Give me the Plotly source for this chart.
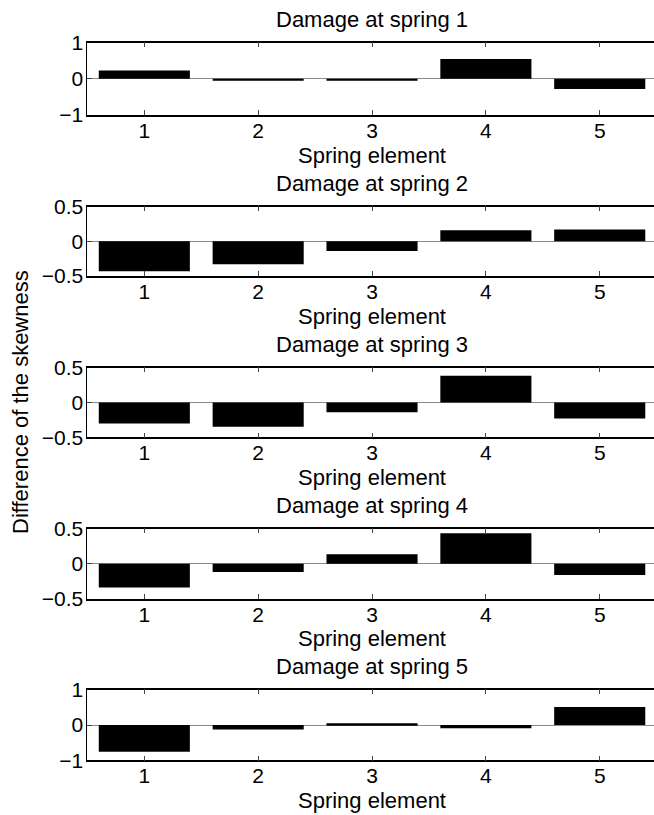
import plotly.graph_objects as go

# ---- data ----
springs = [1, 2, 3, 4, 5]
titles = ["Damage at spring 1", "Damage at spring 2", "Damage at spring 3",
          "Damage at spring 4", "Damage at spring 5"]
damage1 = [0.23, -0.05, -0.05, 0.55, -0.28]
damage2 = [-0.43, -0.33, -0.14, 0.16, 0.17]
damage3 = [-0.30, -0.35, -0.14, 0.385, -0.23]
damage4 = [-0.34, -0.12, 0.135, 0.435, -0.16]
damage5 = [-0.76, -0.125, 0.05, -0.095, 0.51]
series = [damage1, damage2, damage3, damage4, damage5]
y_limits = [1, 0.5, 0.5, 0.5, 1]
y_ticktext = [["\u22121", "0", "1"], ["\u22120.5", "0", "0.5"], ["\u22120.5", "0", "0.5"],
              ["\u22120.5", "0", "0.5"], ["\u22121", "0", "1"]]
x_title = "Spring element"
y_title = "Difference of the skewness"

# ---- layout constants (pixels) ----
W, H = 654, 815
ax_left = 87.4
px_per_unit = 113.85
panel_top = [42.7, 206.7, 367.7, 528.7, 689.7]
panel_bot = [115.0, 276.0, 437.3, 598.7, 760.3]
FONT = "Liberation Sans, Arial, Helvetica, sans-serif"

fig = go.Figure()
x_right = 0.5 + (W - ax_left) / px_per_unit
x_center = (ax_left + 2.5 * px_per_unit) / W

for i in range(5):
    n = i + 1
    xa = "x" if n == 1 else f"x{n}"
    ya = "y" if n == 1 else f"y{n}"
    fig.add_trace(go.Bar(x=springs, y=series[i], width=0.8,
                         marker=dict(color="black", line=dict(width=0)),
                         xaxis=xa, yaxis=ya, showlegend=False))
    lim = y_limits[i]
    dom = [1 - panel_bot[i] / H, 1 - panel_top[i] / H]
    fig.layout[f"xaxis{'' if n == 1 else n}"] = dict(
        domain=[ax_left / W, 1], range=[0.5, x_right], anchor=ya,
        tickvals=springs, ticktext=[str(s) for s in springs],
        ticks="inside", ticklen=5, tickcolor="#444", tickwidth=1,
        showline=True, linecolor="black", linewidth=1.5, mirror="ticks",
        showgrid=False, zeroline=False, automargin=False, fixedrange=True,
        ticklabelstandoff=-4,
        tickfont=dict(family=FONT, size=21, color="black"))
    fig.layout[f"yaxis{'' if n == 1 else n}"] = dict(
        domain=dom, range=[-lim, lim], anchor=xa,
        tickvals=[-lim, 0, lim], ticktext=y_ticktext[i],
        ticks="inside", ticklen=5, tickcolor="#444",
        showline=True, linecolor="black", linewidth=1, mirror=False,
        showgrid=False, zeroline=True, zerolinecolor="#8a8a8a", zerolinewidth=1,
        automargin=False, fixedrange=True, ticklabelstandoff=-1,
        tickfont=dict(family=FONT, size=21, color="black"))
    # panel title
    fig.add_annotation(text=titles[i], xref="paper", yref="paper",
                       x=x_center, y=1 - (panel_top[i] - 23) / H,
                       xanchor="center", yanchor="middle",
                       showarrow=False, font=dict(family=FONT, size=22, color="black"))
    # x axis title
    fig.add_annotation(text=x_title, xref="paper", yref="paper",
                       x=x_center, y=1 - (panel_bot[i] + 40) / H,
                       xanchor="center", yanchor="middle",
                       showarrow=False, font=dict(family=FONT, size=22, color="black"))

fig.add_annotation(text=y_title, xref="paper", yref="paper",
                   x=20 / W, y=1 - 402 / H, xanchor="center", yanchor="middle",
                   textangle=-90, showarrow=False,
                   font=dict(family=FONT, size=22, color="black"))

fig.update_layout(width=W, height=H, margin=dict(l=0, r=0, t=0, b=0, pad=0),
                  plot_bgcolor="white", paper_bgcolor="white", bargap=0.2)

fig.write_html("out.html")
